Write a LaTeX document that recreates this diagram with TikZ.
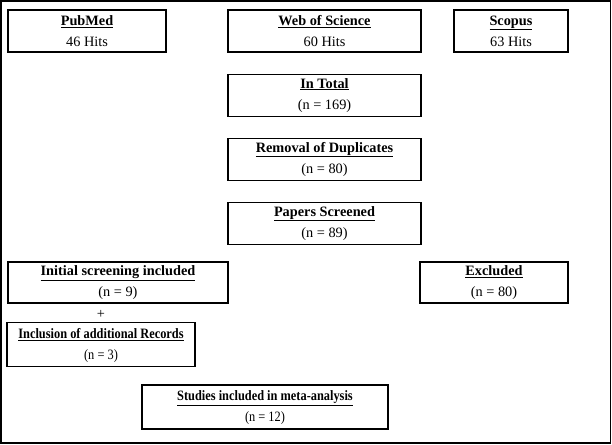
\documentclass[tikz,border=0pt]{standalone}
\usepackage{fontspec}
\setmainfont{Liberation Serif}
\usetikzlibrary{positioning}

\newcommand{\boxhead}[1]{\underline{\textbf{#1}}}
\newcommand{\narrowtext}[1]{\scalebox{0.865}[1]{\begin{tabular}{@{}c@{}}#1\end{tabular}}}

\begin{document}
\begin{tikzpicture}[
  x=1pt,y=-1pt,
  node distance=21pt,
  every node/.style={font=\fontsize{14.3}{21}\selectfont,align=center},
  flowbox/.style={draw,line width=1.1pt,minimum height=42pt,inner sep=1pt}
]
  \useasboundingbox (0,0) rectangle (612,444);
  \draw[line width=1.6pt] (1,1) rectangle (610.5,443);

  \node[flowbox,minimum width=158pt] (pubmed) at (87,31) {\boxhead{PubMed}\\46 Hits};
  \node[flowbox,minimum width=193pt] (wos) at (324.5,31) {\boxhead{Web of Science}\\60 Hits};
  \node[flowbox,minimum width=114pt] (scopus) at (511,31) {\boxhead{Scopus}\\63 Hits};
  \node[flowbox,minimum width=193pt,below=of wos] (total) {\boxhead{In Total}\\(n = 169)};
  \node[flowbox,minimum width=193pt,below=of total] (dupl) {\boxhead{Removal of Duplicates}\\(n = 80)};
  \node[flowbox,minimum width=193pt,below=of dupl] (screened) {\boxhead{Papers Screened}\\(n = 89)};
  \node[flowbox,minimum width=220pt,minimum height=41pt] (initial) at (118,282.5) {\boxhead{Initial screening included}\\(n = 9)};
  \node[flowbox,minimum width=148pt,minimum height=41pt] (excluded) at (494,282.5) {\boxhead{Excluded}\\(n = 80)};
  \node (plus) at (101,314) {+};
  \node[flowbox,minimum width=188pt,minimum height=43pt] (additional) at (101,344.5)
    {\narrowtext{\boxhead{Inclusion of additional Records}\\(n = 3)}};
  \node[flowbox,minimum width=246pt] (studies) at (265,407)
    {\narrowtext{\boxhead{Studies included in meta-analysis}\\(n = 12)}};
\end{tikzpicture}
\end{document}
